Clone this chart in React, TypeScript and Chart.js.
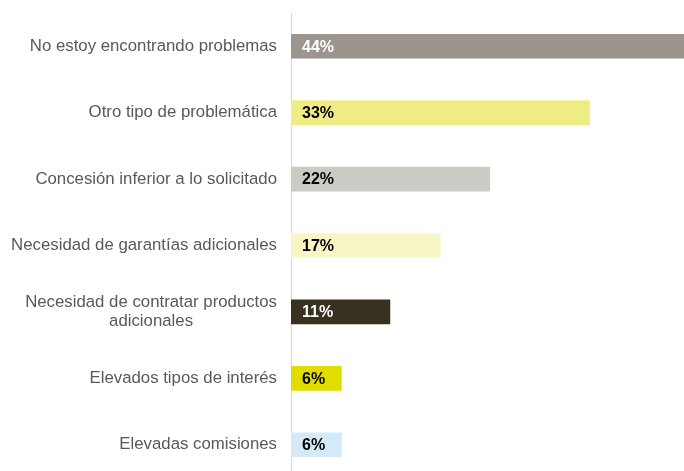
import React, { useEffect, useRef } from "react";
import { Chart, registerables } from "chart.js";

Chart.register(...registerables);

const categories: (string | string[])[] = [
  "No estoy encontrando problemas",
  "Otro tipo de problemática",
  "Concesión inferior a lo solicitado",
  "Necesidad de garantías adicionales",
  ["Necesidad de contratar productos", "adicionales"],
  "Elevados tipos de interés",
  "Elevadas comisiones",
];
const values = [43.7, 33.2, 22.1, 16.6, 11.0, 5.6, 5.6];
const valueLabels = ["44%", "33%", "22%", "17%", "11%", "6%", "6%"];
const barColors = ["#9b958d", "#f0ec85", "#cccac5", "#f7f6c4", "#38311f", "#e2dd00", "#d4eaf7"];
const labelColors = ["#ffffff", "#000000", "#000000", "#000000", "#ffffff", "#000000", "#000000"];

const FONT = "'Liberation Sans', Arial, sans-serif";

const labelsPlugin = {
  id: "customLabels",
  afterDatasetsDraw(chart: any) {
    const ctx = chart.ctx;
    const y = chart.scales.y;
    const x = chart.scales.x;
    const area = chart.chartArea;
    ctx.save();
    ctx.font = `16.8px ${FONT}`;
    ctx.fillStyle = "#595959";
    ctx.textBaseline = "middle";
    const right = area.left - 14;
    const lineH = 19;
    categories.forEach((c, i) => {
      const cy = y.getPixelForValue(i);
      if (Array.isArray(c)) {
        const widths = c.map((l) => ctx.measureText(l).width);
        const maxW = Math.max(...widths);
        const center = right - maxW / 2;
        ctx.textAlign = "center";
        const top = cy - ((c.length - 1) * lineH) / 2;
        c.forEach((l, k) => ctx.fillText(l, center, top + k * lineH));
      } else {
        ctx.textAlign = "right";
        ctx.fillText(c, right, cy);
      }
    });
    ctx.font = `bold 16px ${FONT}`;
    ctx.textAlign = "left";
    const x0 = x.getPixelForValue(0);
    valueLabels.forEach((t, i) => {
      ctx.fillStyle = labelColors[i];
      ctx.fillText(t, x0 + 11, y.getPixelForValue(i) + 1);
    });
    ctx.restore();
  },
};

export default function App() {
  const ref = useRef<HTMLCanvasElement>(null);
  useEffect(() => {
    document.body.style.margin = "0";
    if (!ref.current) return;
    const chart = new Chart(ref.current, {
      type: "bar",
      data: {
        labels: categories as any,
        datasets: [
          {
            data: values,
            backgroundColor: barColors,
            barThickness: 24,
            borderWidth: 0,
          },
        ],
      },
      options: {
        indexAxis: "y",
        animation: false,
        responsive: false,
        maintainAspectRatio: false,
        layout: { padding: { top: 13, right: 0, bottom: 0, left: 0 } },
        plugins: {
          legend: { display: false },
          tooltip: { enabled: false },
        },
        scales: {
          x: {
            min: 0,
            max: 43.7,
            display: false,
          },
          y: {
            offset: true,
            grid: { display: false, drawTicks: false },
            border: { display: true, color: "#d9d9d9", width: 1 },
            ticks: { display: false },
            afterFit(scale: any) {
              scale.width = 291;
            },
          },
        },
      },
      plugins: [labelsPlugin],
    });
    return () => chart.destroy();
  }, []);
  return (
    <div style={{ width: 684, height: 471, overflow: "hidden" }}>
      <canvas ref={ref} width={684} height={478} style={{ display: "block" }} />
    </div>
  );
}
